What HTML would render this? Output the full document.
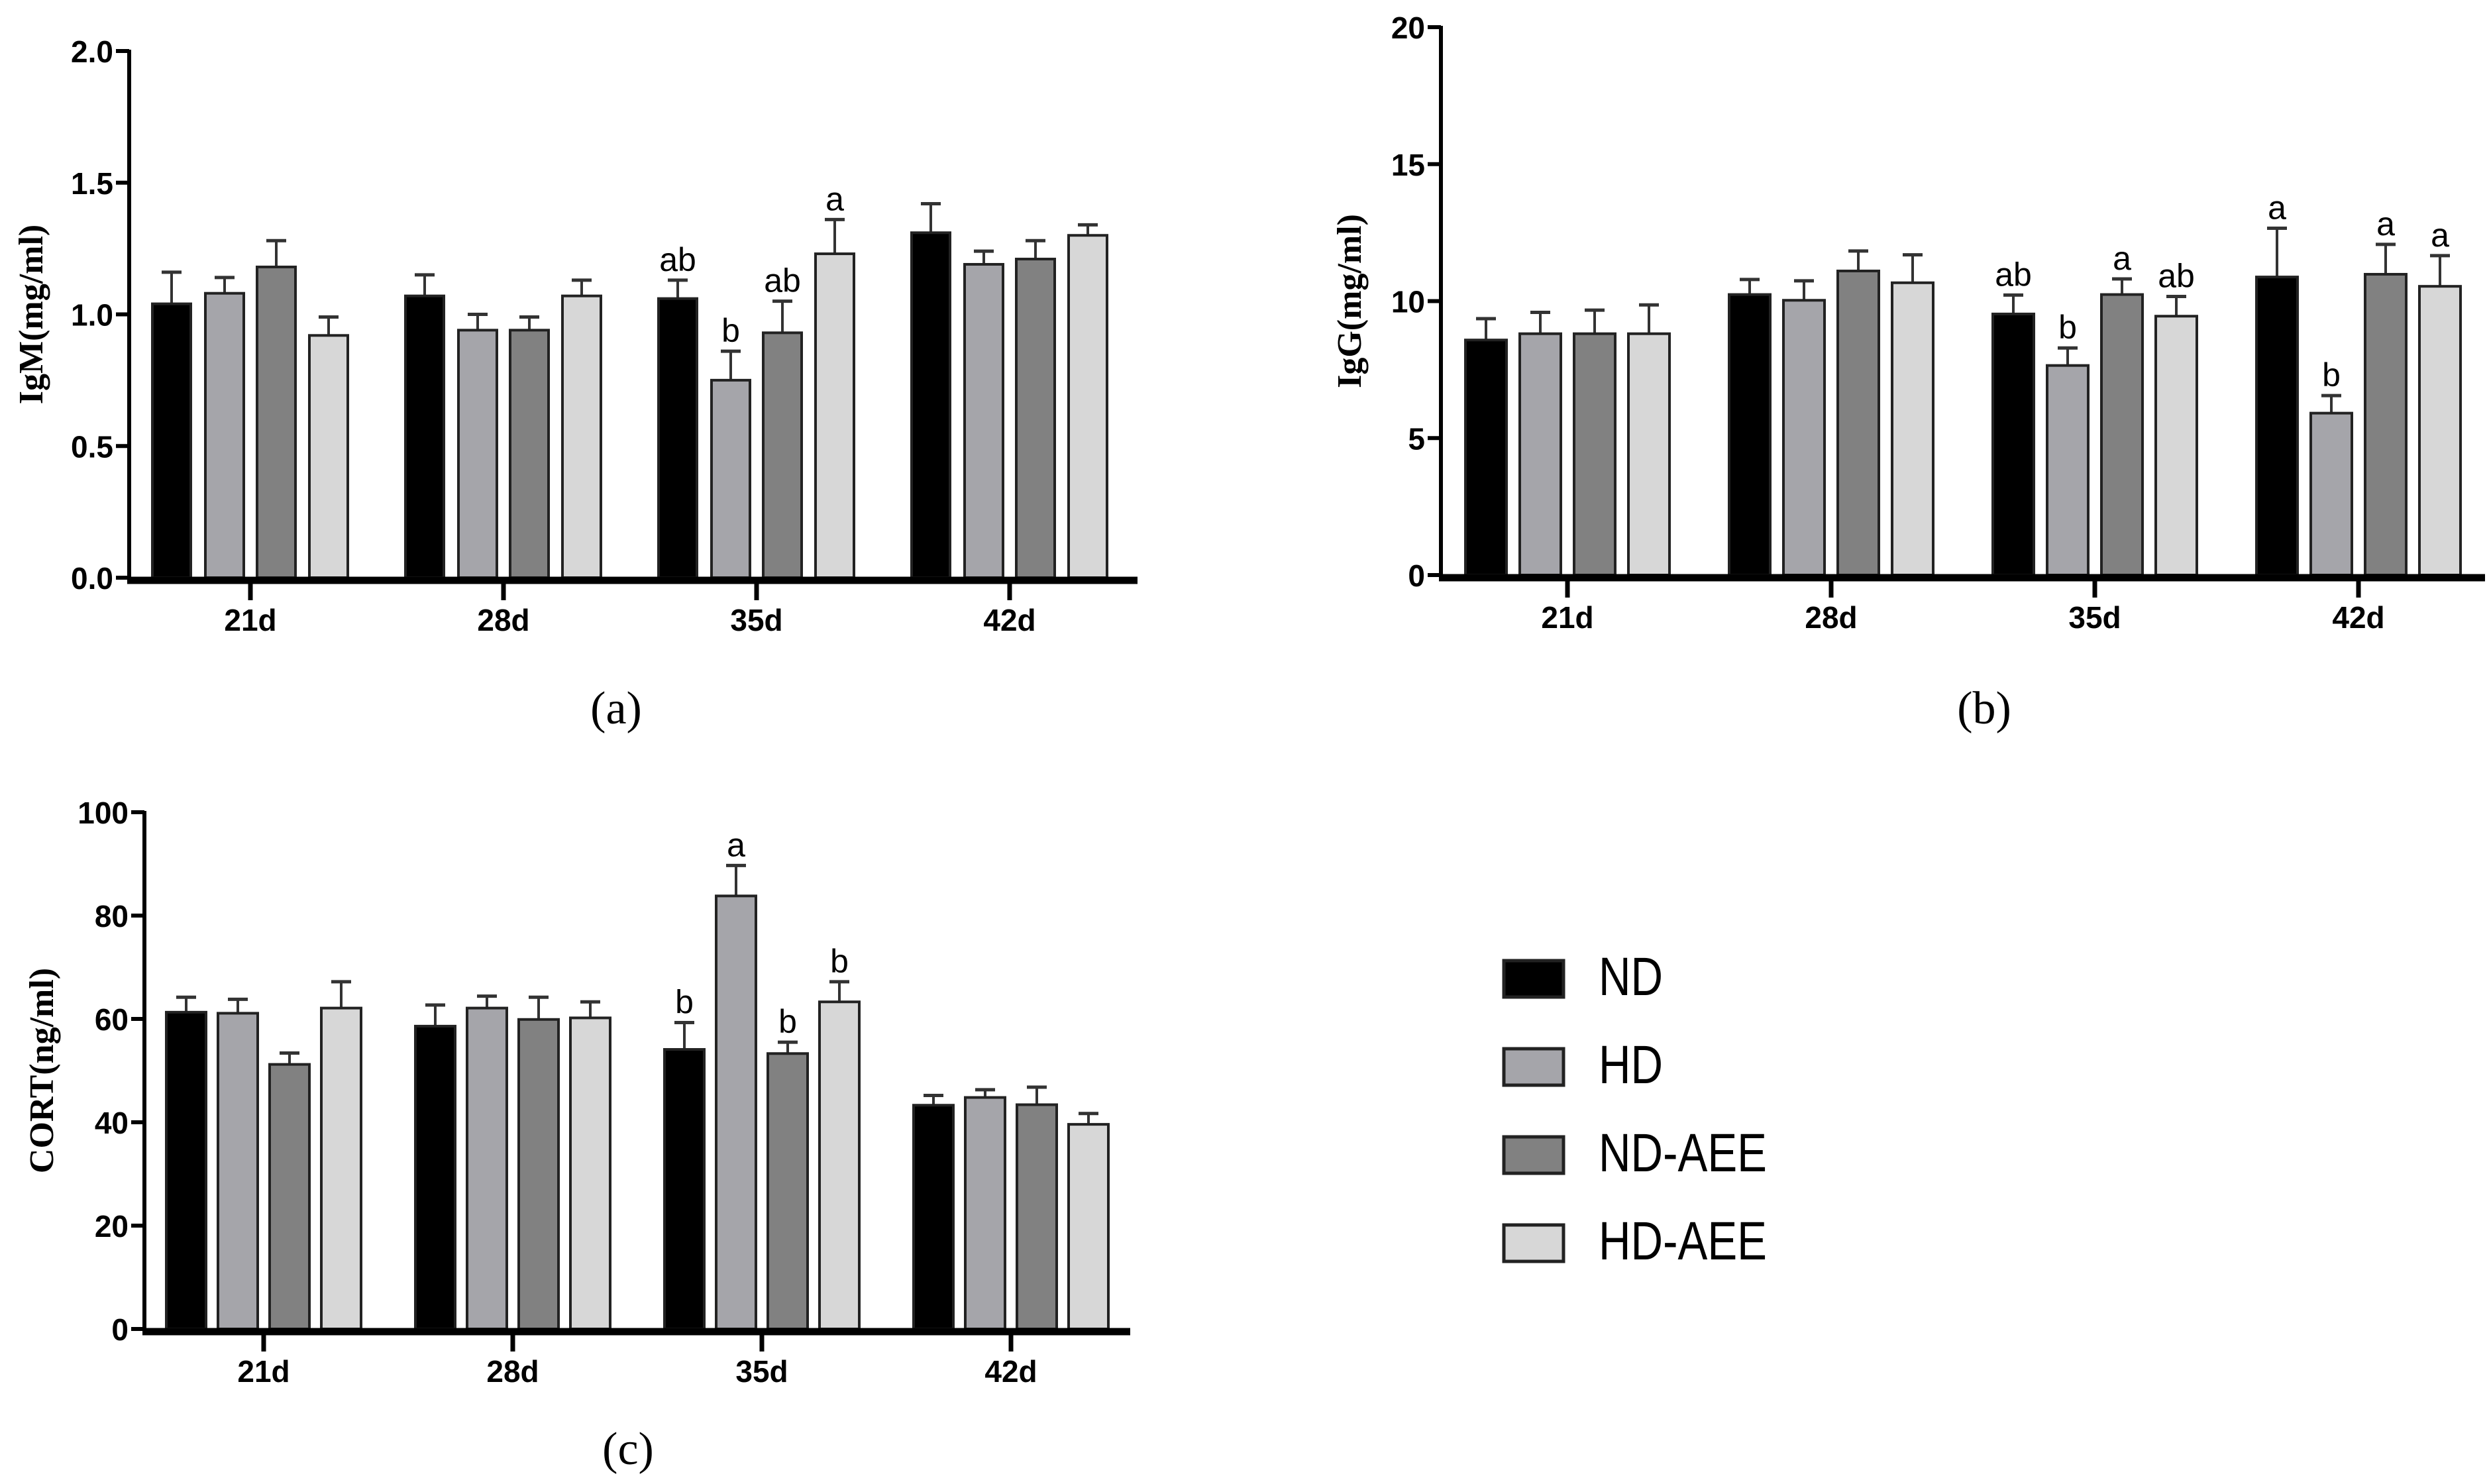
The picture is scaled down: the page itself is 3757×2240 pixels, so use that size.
<!DOCTYPE html>
<html><head><meta charset="utf-8"><style>
html,body{margin:0;padding:0;background:#fff}
svg{display:block}
</style></head><body>
<svg id="fig" xmlns="http://www.w3.org/2000/svg" width="3757" height="2240" viewBox="0 0 3757 2240"></svg>
<script>
const categories = ["21d","28d","35d","42d"];
const seriesNames = ["ND","HD","ND-AEE","HD-AEE"];
const seriesColors = ["#000000","#a5a5aa","#818181","#d7d7d7"];

const igmMean = [[1.04,1.07,1.06,1.31],[1.08,0.94,0.75,1.19],[1.18,0.94,0.93,1.21],[0.92,1.07,1.23,1.30]];
const igmErr  = [[0.12,0.08,0.07,0.11],[0.06,0.06,0.11,0.05],[0.10,0.05,0.12,0.07],[0.07,0.06,0.13,0.04]];
const igmLetters = [["","","ab",""],["","","b",""],["","","ab",""],["","","a",""]];
const igmTicks = ["0.0","0.5","1.0","1.5","2.0"];

const iggMean = [[8.58,10.24,9.53,10.88],[8.81,10.03,7.65,5.91],[8.81,11.10,10.24,10.98],[8.81,10.67,9.45,10.54]];
const iggErr  = [[0.78,0.55,0.69,1.78],[0.78,0.71,0.64,0.64],[0.86,0.73,0.57,1.09],[1.05,1.02,0.72,1.12]];
const iggLetters = [["","","ab","a"],["","","b","b"],["","","a","a"],["","","ab","a"]];
const iggTicks = ["0","5","10","15","20"];

const cortMean = [[61.3,58.6,54.1,43.3],[61.1,62.1,83.8,44.8],[51.2,59.9,53.3,43.4],[62.1,60.2,63.3,39.6]];
const cortErr  = [[2.9,4.1,5.2,1.9],[2.7,2.3,5.9,1.5],[2.2,4.3,2.2,3.4],[5.1,3.1,3.9,2.1]];
const cortLetters = [["","","b",""],["","","a",""],["","","b",""],["","","b",""]];
const cortTicks = ["0","20","40","60","80","100"];

const NS="http://www.w3.org/2000/svg";
const svg=document.getElementById('fig');
function mk(tag,attrs,parent){const e=document.createElementNS(NS,tag);for(const k in attrs)e.setAttribute(k,attrs[k]);(parent||svg).appendChild(e);return e;}

function panel(cfg){
  const g=mk('g',{});
  
  
  const ymax=cfg.ymax;
  const yS=v=>cfg.y0-(v/ymax)*(cfg.y0-cfg.yTop);
  const xS=i=>cfg.c0+i*cfg.cstep;
  for(let s=0;s<4;s++){
    for(let c=0;c<4;c++){
      const cx=xS(c)+cfg.offs[s];
      const v=cfg.mean[s][c], e=cfg.err[s][c];
      const top=yS(v), et=yS(v+e);
      const ln=mk('line',{x1:cx,x2:cx,y1:top,y2:et,stroke:'#333',"stroke-width":4},g);
      
      
      const cap=mk('line',{x1:cx-15,x2:cx+15,y1:et,y2:et,stroke:'#333',"stroke-width":5},g);
      
      
      const r=mk('rect',{x:cx-cfg.bw/2,y:top,width:cfg.bw,height:cfg.y0-top,fill:seriesColors[s],stroke:'#222',"stroke-width":4},g);
      
      
      const L=cfg.letters[s][c];
      if(L){
        const t=mk('text',{x:cx,y:et-14,"text-anchor":'middle',"font-family":'Liberation Sans, sans-serif',"font-size":50},g);
        t.textContent=L;
        
        
      }
    }
  }
  const ya=mk('line',{x1:cfg.ax,x2:cfg.ax,y1:cfg.yTop-2,y2:cfg.y0,stroke:'#000',"stroke-width":6},g);
  
  
  const xa=mk('line',{x1:cfg.ax-3,x2:cfg.xEnd,y1:cfg.y0+4,y2:cfg.y0+4,stroke:'#000',"stroke-width":11},g);
  
  
  const nT=cfg.ticks.length;
  for(let i=0;i<nT;i++){
    const v=ymax*i/(nT-1), y=yS(v);
    const tk=mk('line',{x1:cfg.ax-20,x2:cfg.ax,y1:y,y2:y,stroke:'#000',"stroke-width":6},g);
    
    
    const t=mk('text',{x:cfg.ax-24,y:y+17,"text-anchor":'end',"font-family":'Liberation Sans, sans-serif',"font-weight":'bold',"font-size":46},g);
    t.textContent=cfg.ticks[i];
    
    
  }
  for(let c=0;c<4;c++){
    const x=xS(c);
    const tk=mk('line',{x1:x,x2:x,y1:cfg.y0,y2:cfg.y0+34,stroke:'#000',"stroke-width":7},g);
    
    
    const t=mk('text',{x:x,y:cfg.y0+80,"text-anchor":'middle',"font-family":'Liberation Sans, sans-serif',"font-weight":'bold',"font-size":46},g);
    t.textContent=categories[c];
    
    
  }
  const yt=mk('text',{x:0,y:0,transform:`translate(${cfg.titleX},${(cfg.y0+cfg.yTop)/2}) rotate(-90)`,"text-anchor":'middle',"font-family":'Liberation Serif, serif',"font-weight":'bold',"font-size":52},g);
  yt.textContent=cfg.title;
  
  
  const cap=mk('text',{x:cfg.capX,y:cfg.capY,"text-anchor":'middle',"font-family":'Liberation Serif, serif',"font-size":70},g);
  cap.textContent=cfg.caption;
  
  
}

panel({name:'panel-a-igm',mean:igmMean,err:igmErr,letters:igmLetters,ticks:igmTicks,ymax:2.0,
  y0:872,yTop:77,ax:195,xEnd:1717,c0:378,cstep:382,offs:[-119,-39,39,118],bw:58,
  title:'IgM(mg/ml)',titleX:64,caption:'(a)',capX:930,capY:1092});
panel({name:'panel-b-igg',mean:iggMean,err:iggErr,letters:iggLetters,ticks:iggTicks,ymax:20,
  y0:868,yTop:41,ax:2175,xEnd:3751,c0:2366,cstep:398,offs:[-123,-41,41,123],bw:62,
  title:'IgG(mg/ml)',titleX:2054,caption:'(b)',capX:2995,capY:1092});
panel({name:'panel-c-cort',mean:cortMean,err:cortErr,letters:cortLetters,ticks:cortTicks,ymax:100,
  y0:2006,yTop:1226,ax:218,xEnd:1706,c0:398,cstep:376,offs:[-117,-39,39,117],bw:60,
  title:'CORT(ng/ml)',titleX:80,caption:'(c)',capX:948,capY:2210});

const lg=mk('g',{});


for(let s=0;s<4;s++){
  const y=1450+s*133;
  const r=mk('rect',{x:2270,y:y,width:90,height:55,fill:seriesColors[s],stroke:'#222',"stroke-width":5},lg);
  
  
  const t=mk('text',{x:0,y:0,transform:`translate(2413,${y+52}) scale(0.82,1)`,"font-family":'Liberation Sans, sans-serif',"font-size":82},lg);
  t.textContent=seriesNames[s];
  
  
}
</script>
</body></html>
